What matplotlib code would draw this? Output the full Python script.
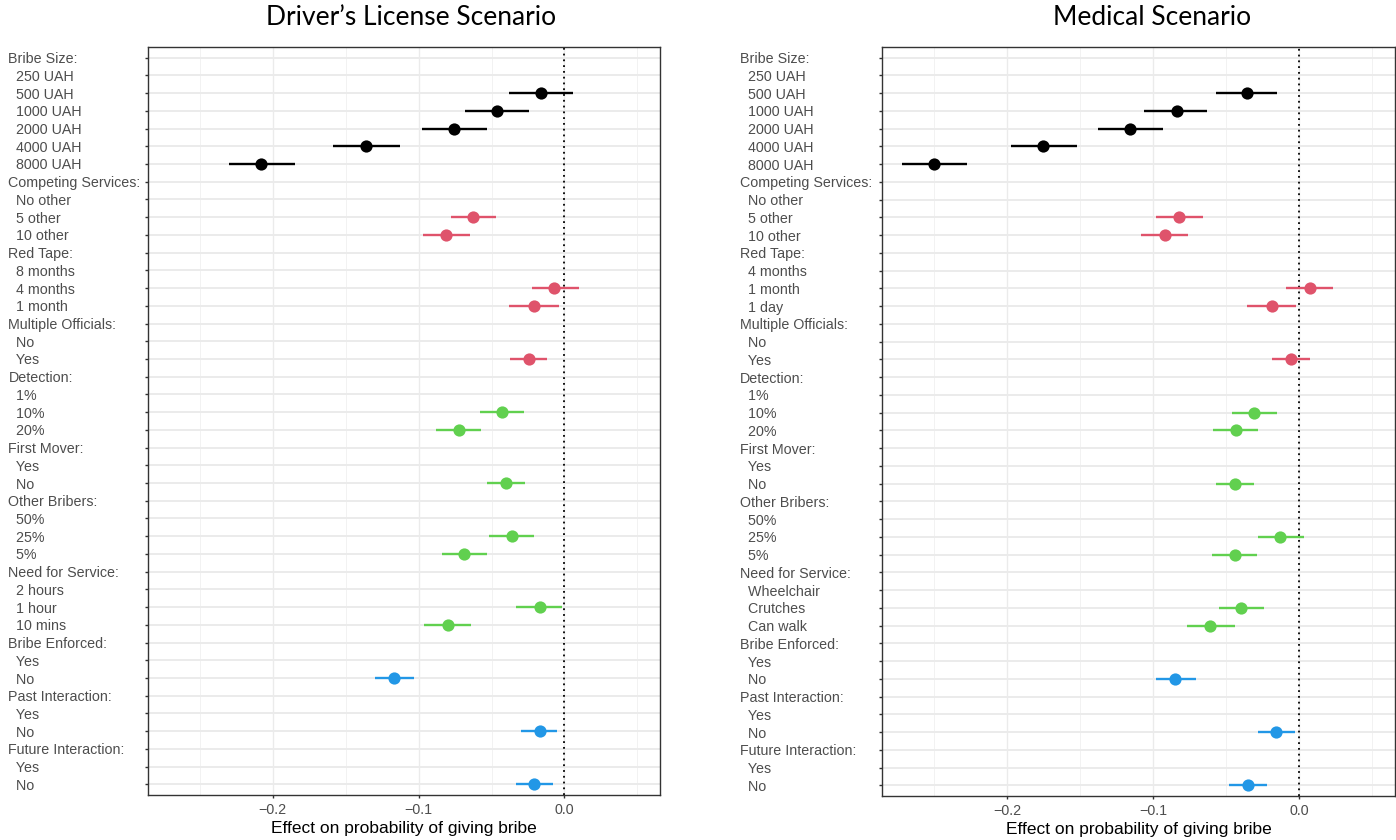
import numpy as np
import matplotlib.pyplot as plt

# attribute headers (shared by both scenarios)
attributes = ['Bribe Size:', 'Competing Services:', 'Red Tape:', 'Multiple Officials:',
              'Detection:', 'First Mover:', 'Other Bribers:', 'Need for Service:',
              'Bribe Enforced:', 'Past Interaction:', 'Future Interaction:']

# Driver's license scenario
dl_levels = [['250 UAH', '500 UAH', '1000 UAH', '2000 UAH', '4000 UAH', '8000 UAH'],
             ['No other', '5 other', '10 other'],
             ['8 months', '4 months', '1 month'],
             ['No', 'Yes'],
             ['1%', '10%', '20%'],
             ['Yes', 'No'],
             ['50%', '25%', '5%'],
             ['2 hours', '1 hour', '10 mins'],
             ['Yes', 'No'],
             ['Yes', 'No'],
             ['Yes', 'No']]
dl_est = [[None, -0.016, -0.046, -0.076, -0.136, -0.208],
          [None, -0.063, -0.081],
          [None, -0.007, -0.021],
          [None, -0.024],
          [None, -0.043, -0.072],
          [None, -0.040],
          [None, -0.036, -0.069],
          [None, -0.017, -0.080],
          [None, -0.117],
          [None, -0.017],
          [None, -0.021]]
dl_lo = [[None, -0.038, -0.068, -0.098, -0.159, -0.230],
         [None, -0.078, -0.097],
         [None, -0.022, -0.038],
         [None, -0.037],
         [None, -0.058, -0.088],
         [None, -0.053],
         [None, -0.052, -0.084],
         [None, -0.033, -0.096],
         [None, -0.130],
         [None, -0.030],
         [None, -0.033]]
dl_hi = [[None, 0.006, -0.024, -0.053, -0.113, -0.185],
         [None, -0.047, -0.065],
         [None, 0.010, -0.004],
         [None, -0.012],
         [None, -0.028, -0.057],
         [None, -0.027],
         [None, -0.021, -0.053],
         [None, -0.002, -0.064],
         [None, -0.103],
         [None, -0.005],
         [None, -0.008]]

# Medical scenario
med_levels = [['250 UAH', '500 UAH', '1000 UAH', '2000 UAH', '4000 UAH', '8000 UAH'],
              ['No other', '5 other', '10 other'],
              ['4 months', '1 month', '1 day'],
              ['No', 'Yes'],
              ['1%', '10%', '20%'],
              ['Yes', 'No'],
              ['50%', '25%', '5%'],
              ['Wheelchair', 'Crutches', 'Can walk'],
              ['Yes', 'No'],
              ['Yes', 'No'],
              ['Yes', 'No']]
med_est = [[None, -0.036, -0.084, -0.116, -0.175, -0.250],
           [None, -0.082, -0.092],
           [None, 0.007, -0.019],
           [None, -0.006],
           [None, -0.031, -0.043],
           [None, -0.044],
           [None, -0.013, -0.044],
           [None, -0.040, -0.061],
           [None, -0.085],
           [None, -0.016],
           [None, -0.035]]
med_lo = [[None, -0.057, -0.106, -0.138, -0.197, -0.272],
          [None, -0.098, -0.108],
          [None, -0.009, -0.036],
          [None, -0.019],
          [None, -0.046, -0.059],
          [None, -0.057],
          [None, -0.028, -0.060],
          [None, -0.055, -0.077],
          [None, -0.098],
          [None, -0.028],
          [None, -0.048]]
med_hi = [[None, -0.015, -0.063, -0.093, -0.152, -0.227],
          [None, -0.066, -0.076],
          [None, 0.023, -0.002],
          [None, 0.007],
          [None, -0.015, -0.028],
          [None, -0.031],
          [None, 0.003, -0.029],
          [None, -0.024, -0.044],
          [None, -0.071],
          [None, -0.003],
          [None, -0.022]]

# colour per attribute (R 4 default palette)
attr_colors = ['black', '#DF536B', '#DF536B', '#DF536B',
               '#61D04F', '#61D04F', '#61D04F', '#61D04F',
               '#2297E6', '#2297E6', '#2297E6']

plt.rcParams['font.family'] = ['Liberation Sans', 'DejaVu Sans']


def draw_panel(ax, levels, est, lo, hi, label_pad):
    labels = []
    rows = []
    for a, attr in enumerate(attributes):
        labels.append(attr)
        rows.append((None, None, None, None))
        for l, lev in enumerate(levels[a]):
            labels.append('  ' + lev)
            rows.append((est[a][l], lo[a][l], hi[a][l], attr_colors[a]))
    n = len(labels)
    ypos = np.arange(n, 0, -1)
    for y, (e, l, h, c) in zip(ypos, rows):
        if e is None:
            continue
        ax.plot([l, h], [y, y], color=c, lw=1.7, solid_capstyle='butt', zorder=3)
        ax.plot(e, y, 'o', color=c, ms=8.8, mec='none', zorder=4)
    ax.axvline(0, color='black', ls=(0, (1, 2.2)), lw=1.3, zorder=2)

    ax.set_xlim(-0.2855, 0.0655)
    ax.set_ylim(0.4, n + 0.6)
    ax.set_yticks(ypos)
    ax.set_yticklabels(labels, ha='left')
    ax.set_xticks([-0.2, -0.1, 0.0])
    ax.set_xticklabels(['\u22120.2', '\u22120.1', '0.0'])
    ax.set_xticks([-0.25, -0.15, -0.05, 0.05], minor=True)
    ax.tick_params(axis='y', length=2.5, width=1.0, color='#333333', pad=label_pad,
                   labelsize=10.3, labelcolor='#4D4D4D')
    ax.tick_params(axis='x', which='major', length=2.5, width=1.0, color='#333333',
                   pad=3, labelsize=10.3, labelcolor='#4D4D4D')
    ax.tick_params(axis='x', which='minor', length=0)
    ax.grid(axis='x', which='major', color='#EBEBEB', lw=1.0, zorder=0)
    ax.grid(axis='x', which='minor', color='#F0F0F0', lw=0.6, zorder=0)
    ax.grid(axis='y', which='major', color='#EBEBEB', lw=1.4, zorder=0)
    ax.set_axisbelow(True)
    for s in ax.spines.values():
        s.set_color('#333333')
        s.set_linewidth(1.0)
    ax.set_xlabel('Effect on probability of giving bribe', fontsize=12.5, labelpad=3)


fig = plt.figure(figsize=(13.96, 8.4), dpi=100)
ax1 = fig.add_axes([148 / 1396, 1 - 795 / 840, 512 / 1396, 748 / 840])
ax2 = fig.add_axes([882 / 1396, 1 - 796 / 840, 513 / 1396, 749 / 840])

draw_panel(ax1, dl_levels, dl_est, dl_lo, dl_hi, 98)
draw_panel(ax2, med_levels, med_est, med_lo, med_hi, 100)

fig.text(411 / 1396, 1 - 25 / 840, 'Driver\u2019s License Scenario', ha='center',
         va='baseline', fontsize=19, family=['Lato', 'DejaVu Sans'])
fig.text(1152 / 1396, 1 - 25 / 840, 'Medical Scenario', ha='center',
         va='baseline', fontsize=19, family=['Lato', 'DejaVu Sans'])

fig.savefig('out.png', dpi=100)
